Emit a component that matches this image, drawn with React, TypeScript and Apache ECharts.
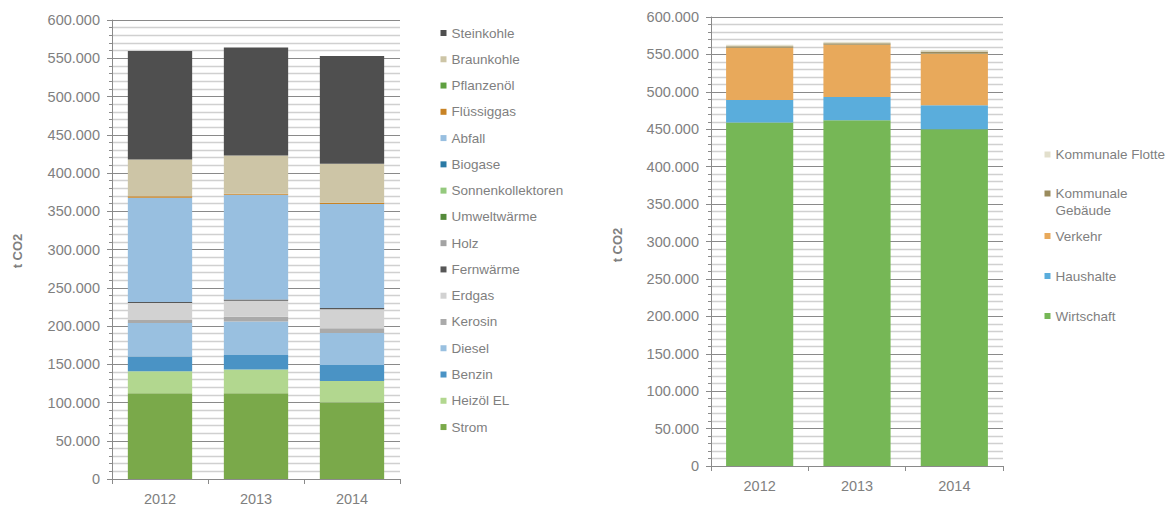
import React, { useEffect, useRef } from "react";
import * as echarts from "echarts";

const years = ["2012", "2013", "2014"];

// Left chart: energy carriers (t CO2), bottom to top of the stack
const leftNames = [
  "Strom", "Heizöl EL", "Benzin", "Diesel", "Kerosin", "Erdgas", "Fernwärme", "Holz",
  "Umweltwärme", "Sonnenkollektoren", "Biogase", "Abfall", "Flüssiggas", "Pflanzenöl",
  "Braunkohle", "Steinkohle",
];
const strom = [112000, 112000, 100000];
const heizoel = [29000, 31000, 28000];
const benzin = [19000, 19000, 21000];
const diesel = [44000, 44000, 42000];
const kerosin = [4000, 6000, 6000];
const erdgas = [22000, 21000, 25000];
const fernwaerme = [1500, 1500, 1500];
const holz = [0, 0, 0];
const umweltwaerme = [0, 0, 0];
const sonnenkollektoren = [0, 0, 0];
const biogase = [0, 0, 0];
const abfall = [136000, 137000, 136000];
const fluessiggas = [2000, 1500, 1500];
const pflanzenoel = [0, 0, 0];
const braunkohle = [48000, 50000, 51000];
const steinkohle = [142000, 141000, 141000];
const leftValues = [
  strom, heizoel, benzin, diesel, kerosin, erdgas, fernwaerme, holz, umweltwaerme,
  sonnenkollektoren, biogase, abfall, fluessiggas, pflanzenoel, braunkohle, steinkohle,
];
const leftColors = [
  "#7aa94a", "#b2d78f", "#4a93c5", "#99c0e0", "#aaaaaa", "#d2d2d2", "#575757", "#a3a3a3",
  "#548a3a", "#94c97d", "#2a7aa5", "#98bfe0", "#c88325", "#5fa040", "#cdc5a6", "#4f4f4f",
];

// Right chart: sectors (t CO2), bottom to top
const rightNames = ["Wirtschaft", "Haushalte", "Verkehr", "Kommunale Gebäude", "Kommunale Flotte"];
const wirtschaft = [459000, 462000, 450000];
const haushalte = [30000, 31000, 32000];
const verkehr = [70000, 70000, 69000];
const kommGebaeude = [2000, 2000, 3000];
const kommFlotte = [1800, 1800, 1800];
const rightValues = [wirtschaft, haushalte, verkehr, kommGebaeude, kommFlotte];
const rightColors = ["#76b756", "#5aaddc", "#e8a95b", "#9a8b5d", "#e2dfcc"];

const yTicksMax = 600000;
const yTickStep = 50000;

const FONT = "'Liberation Sans', Arial, sans-serif";
const TXT = "#7f7f7f";
const AX = "#8a8a8a";

function fmt(v: number) {
  if (v === 0) return "0";
  return String(v / 1000) + ".000";
}

function xAxisFor(gridIndex: number) {
  return {
    type: "category",
    gridIndex,
    data: years,
    axisLine: { show: true, lineStyle: { color: AX, width: 1 } },
    axisTick: { show: true, length: 5, alignWithLabel: false, lineStyle: { color: AX } },
    axisLabel: { color: TXT, fontSize: 14.5, fontFamily: FONT, margin: 12 },
    splitLine: { show: false },
  };
}

function yAxisFor(gridIndex: number) {
  return {
    type: "value",
    gridIndex,
    min: 0,
    max: yTicksMax,
    interval: yTickStep,
    axisLine: { show: true, lineStyle: { color: AX, width: 1 } },
    axisTick: { show: true, length: 5, lineStyle: { color: AX } },
    minorTick: { show: true, splitNumber: 5, length: 3, lineStyle: { color: AX } },
    axisLabel: { color: TXT, fontSize: 14.5, fontFamily: FONT, margin: 12, formatter: fmt },
    splitLine: { show: true, lineStyle: { color: AX, width: 1 } },
    minorSplitLine: { show: true, lineStyle: { color: "#d0d0d0", width: 1.4 } },
  };
}

export default function App() {
  const ref = useRef<HTMLDivElement>(null);

  useEffect(() => {
    if (!ref.current) return;
    const chart = echarts.init(ref.current, undefined, { renderer: "svg" });

    const series: any[] = [];
    leftNames.forEach((name, i) => {
      series.push({
        name,
        type: "bar",
        stack: "left",
        xAxisIndex: 0,
        yAxisIndex: 0,
        barWidth: "67%",
        data: leftValues[i],
        itemStyle: { color: leftColors[i] },
      });
    });
    rightNames.forEach((name, i) => {
      series.push({
        name,
        type: "bar",
        stack: "right",
        xAxisIndex: 1,
        yAxisIndex: 1,
        barWidth: "69%",
        data: rightValues[i],
        itemStyle: { color: rightColors[i] },
      });
    });

    const legendBase = {
      orient: "vertical",
      selectedMode: false,
      padding: 0,
      itemWidth: 6,
      itemHeight: 6,
      icon: "rect",
      textStyle: { color: TXT, fontSize: 13.5, fontFamily: FONT, lineHeight: 16 },
    };

    const rightLegendCenters = [316, 276, 236, 193.5, 154.5];
    const rightLegends = rightNames.map((name, i) => ({
      ...legendBase,
      left: 1044.5,
      top: rightLegendCenters[i] - 8,
      data: [name],
      formatter: (n: string) => (n === "Kommunale Gebäude" ? "Kommunale" : n),
    }));

    chart.setOption({
      animation: false,
      textStyle: { fontFamily: FONT },
      grid: [
        { left: 112, top: 20, width: 288, height: 459 },
        { left: 711, top: 17, width: 292, height: 449 },
      ],
      xAxis: [xAxisFor(0), xAxisFor(1)],
      yAxis: [yAxisFor(0), yAxisFor(1)],
      legend: [
        {
          ...legendBase,
          left: 440.5,
          top: 25,
          itemGap: 10.27,
          data: leftNames.slice().reverse(),
        },
        ...rightLegends,
      ],
      graphic: [
        {
          type: "text",
          x: 17.5,
          y: 251,
          rotation: Math.PI / 2,
          style: {
            text: "t CO2",
            fill: TXT,
            font: `bold 13px ${FONT}`,
            textAlign: "center",
            textVerticalAlign: "middle",
          },
        },
        {
          type: "text",
          x: 617,
          y: 245,
          rotation: Math.PI / 2,
          style: {
            text: "t CO2",
            fill: TXT,
            font: `bold 13px ${FONT}`,
            textAlign: "center",
            textVerticalAlign: "middle",
          },
        },
        {
          type: "text",
          x: 1055.5,
          y: 210.5,
          style: {
            text: "Gebäude",
            fill: TXT,
            font: `13.5px ${FONT}`,
            textAlign: "left",
            textVerticalAlign: "middle",
          },
        },
      ],
      series,
    });

    return () => chart.dispose();
  }, []);

  return (
    <div
      ref={ref}
      style={{ position: "absolute", left: 0, top: 0, width: 1168, height: 506 }}
    />
  );
}
